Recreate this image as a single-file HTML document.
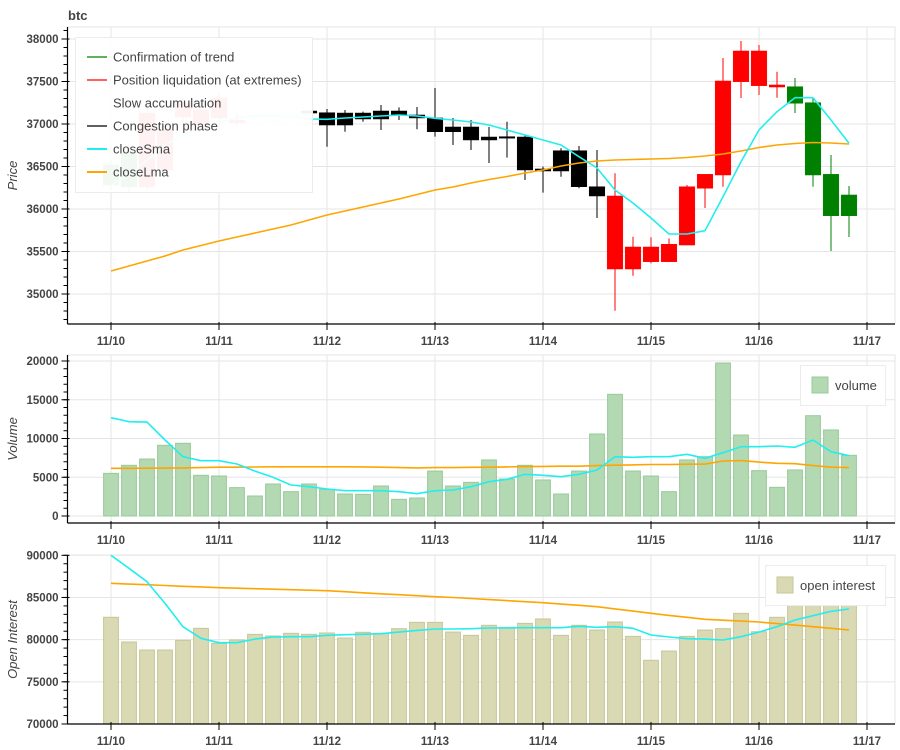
<!DOCTYPE html>
<html><head><meta charset="utf-8"><title>btc</title>
<style>
html,body{margin:0;padding:0;background:#fff;}
svg{display:block;font-family:"Liberation Sans",Arial,sans-serif;}
</style></head>
<body>
<svg id="chart" width="900" height="750" viewBox="0 0 900 750" xmlns="http://www.w3.org/2000/svg"></svg>
<script>
// ---- data (4-hour buckets starting 11/10 00:00) ----
const dayLabels = ["11/10","11/11","11/12","11/13","11/14","11/15","11/16","11/17"];
const priceTicks = [35000,35500,36000,36500,37000,37500,38000];
const volumeTicks = [0,5000,10000,15000,20000];
const oiTicks = [70000,75000,80000,85000,90000];
const openP = [36518,36659,37129,36929,37247,37165,37306,37047,37012,37059,37141,37153,37133,37129,37129,37153,37153,37106,37071,36965,36965,36847,36851,36847,36471,36686,36686,36262,36153,35553,35553,35585,36262,36408,37506,37859,37859,37459,37439,37251,36408,36165];
const highP = [36576,36718,37188,36988,37306,37224,37365,37129,37071,37141,37200,37165,37176,37165,37145,37224,37196,37200,37424,37071,37047,36965,37027,36871,36498,36714,36741,36694,36420,35674,35667,35655,36282,36408,37776,37976,37929,37615,37541,37302,36635,36271];
const lowP = [36224,36200,36224,36400,37012,36929,36988,36976,36929,36953,37024,37118,36733,36909,37027,36929,37047,36938,36851,36753,36694,36541,36604,36341,36192,36380,36244,35894,34803,35215,35361,35380,35576,36012,36262,37306,37341,37309,37129,36262,35506,35671];
const closeP = [36282,36259,36259,36459,37082,36988,37071,37012,36988,36988,37071,37129,36988,36988,37059,37059,37106,37071,36909,36909,36812,36812,36839,36459,36447,36447,36262,36153,35294,35294,35380,35380,35576,36244,36400,37498,37451,37435,37244,36400,35921,35921];
const phase = ["g","g","r","r","r","r","r","r","w","w","w","b","b","b","b","b","b","b","b","b","b","b","b","b","b","b","b","b","r","r","r","r","r","r","r","r","r","r","g","g","g","g"];
const closeSma = [36282,36400,36576,36753,36871,36953,37024,37071,37094,37094,37082,37059,37055,37071,37082,37094,37106,37094,37067,37047,37024,36988,36929,36871,36812,36753,36615,36482,36224,36071,35894,35706,35706,35745,36145,36556,36929,37145,37309,37309,37047,36773];
const closeLma = [35271,35329,35388,35447,35518,35571,35624,35671,35718,35765,35812,35871,35929,35976,36024,36071,36118,36171,36224,36259,36306,36347,36382,36424,36459,36506,36541,36565,36576,36582,36588,36594,36606,36624,36647,36682,36724,36753,36771,36782,36776,36765];
const volume = [5500,6540,7350,9120,9380,5250,5160,3660,2580,4130,3140,4130,3440,2840,2800,3870,2150,2320,5800,3870,4340,7230,4770,6540,4650,2840,5800,10580,15700,5800,5160,3140,7230,7650,19740,10450,5850,3700,5940,12940,11100,7830];
const volSma = [12690,12170,12110,9810,7650,7140,7140,6710,5800,4990,4000,3780,3480,3270,3270,3270,3140,2880,3270,3350,3780,4430,4730,5380,5250,5070,5380,5940,7650,7570,7650,7650,7960,7440,8170,8940,8940,9030,8860,9810,8300,7780];
const volLma = [6150,6150,6170,6180,6200,6250,6300,6300,6320,6350,6350,6350,6350,6350,6330,6300,6250,6200,6250,6250,6280,6300,6330,6380,6400,6420,6430,6500,6550,6600,6650,6650,6680,6700,7100,7150,6950,6800,6750,6500,6300,6250];
const openInterest = [82650,79720,78770,78770,79920,81340,79560,79960,80630,80430,80750,80630,80790,80190,80870,80750,81300,82050,82050,80900,80510,81700,81460,81930,82450,80510,81700,81140,82090,80390,77550,78650,80390,81140,81300,83120,80940,82650,84800,85000,85200,85300];
const oiSma = [90000,88460,86870,84300,81540,80160,79640,79640,80070,80310,80350,80350,80510,80590,80630,80710,80900,81100,81260,81260,81300,81380,81380,81420,81420,81420,81580,81460,81540,81340,80550,80310,80110,80070,79960,80350,80900,81540,82330,82840,83360,83630];
const oiLma = [86680,86590,86510,86420,86330,86250,86160,86100,86040,85980,85920,85860,85800,85680,85560,85440,85330,85210,85090,85000,84880,84750,84630,84500,84380,84220,84070,83910,83650,83380,83120,82880,82650,82410,82300,82200,82090,81900,81720,81540,81340,81140];

// ---- layout ----
const NS = "http://www.w3.org/2000/svg";
const svg = document.getElementById("chart");
const L = 67.5, R = 895;
const HOUR = 4.5, X0 = 111;
function xIdx(i){ return X0 + i*4*HOUR; }
function xDay(d){ return X0 + d*24*HOUR; }
function mk(tag, attrs, parent){
  const e = document.createElementNS(NS, tag);
  for (const k in attrs) e.setAttribute(k, attrs[k]);
  (parent||svg).appendChild(e);
  return e;
}
const panels = [
  {top:27, bot:324, vTop:38000, yTop:39, vBot:35000, yBot:294, ticks:priceTicks, minor:100, min:34647, max:38141, title:"Price", name:"price"},
  {top:355, bot:523, vTop:20000, yTop:361, vBot:0, yBot:516, ticks:volumeTicks, minor:1000, min:-903, max:20770, title:"Volume", name:"volume"},
  {top:555, bot:724, vTop:90000, yTop:555.3, vBot:70000, yBot:724, ticks:oiTicks, minor:1000, min:70000, max:90030, title:"Open Interest", name:"open-interest"}
];
panels.forEach(p=>{ p.y = v => p.yBot + (v - p.vBot)*(p.yTop - p.yBot)/(p.vTop - p.vBot); });

const title = mk("text",{x:68,y:20,"font-size":13,"font-weight":"bold",fill:"#444"});
title.textContent = "btc";



panels.forEach(p=>{
  const g = mk("g",{});
  
  
  const frame = mk("rect",{x:L,y:p.top,width:R-L,height:p.bot-p.top,fill:"none",stroke:"#e5e5e5","stroke-width":1},g);
  
  
  p.ticks.forEach(t=>{
    const y = p.y(t);
    const gl = mk("line",{x1:L,x2:R,y1:y,y2:y,stroke:"#e5e5e5","stroke-width":1},g);
    
    
  });
  dayLabels.forEach((d,k)=>{
    const x = xDay(k);
    const gl = mk("line",{x1:x,x2:x,y1:p.top,y2:p.bot,stroke:"#e5e5e5","stroke-width":1},g);
    
    
  });
});

// ---- price panel ----
const P = panels[0];
const colMap = {g:"#008000", r:"#ff0000", w:"#ececec", b:"#000000"};
const candleG = mk("g",{});


const BW = 15.6;
openP.forEach((o,i)=>{
  const c = colMap[phase[i]];
  const x = xIdx(i);
  const w = mk("line",{x1:x,x2:x,y1:P.y(highP[i]),y2:P.y(lowP[i]),stroke:c,"stroke-width":1},candleG);
  
  
  const yt = P.y(Math.max(o,closeP[i])), yb = P.y(Math.min(o,closeP[i]));
  const b = mk("rect",{x:x-BW/2,y:yt,width:BW,height:Math.max(1.5,yb-yt),fill:c,stroke:c,"stroke-width":0.5},candleG);
  
  
});
function line(arr, p, color, name, width){
  const pts = arr.map((v,i)=> xIdx(i).toFixed(1)+","+p.y(v).toFixed(1)).join(" ");
  const e = mk("polyline",{points:pts,fill:"none",stroke:color,"stroke-width":width||1.6,"stroke-linejoin":"round"});
  
  
  return e;
}
line(closeLma, P, "#ffa500", "close-lma-line");
line(closeSma, P, "#22eeee", "close-sma-line");

// ---- volume panel ----
const V = panels[1];
const volG = mk("g",{});


volume.forEach((v,i)=>{
  const x = xIdx(i);
  const b = mk("rect",{x:x-7.4,y:V.y(v),width:14.8,height:V.y(0)-V.y(v),fill:"#b3d9b3",stroke:"#99c999","stroke-width":1},volG);
  
  
});
line(volLma, V, "#ffa500", "volume-lma-line");
line(volSma, V, "#22eeee", "volume-sma-line");

// ---- OI panel ----
const O = panels[2];
const oiG = mk("g",{});


openInterest.forEach((v,i)=>{
  const x = xIdx(i);
  const b = mk("rect",{x:x-7.4,y:O.y(v),width:14.8,height:O.bot-O.y(v),fill:"#d9d9b3",stroke:"#c6c69a","stroke-width":1},oiG);
  
  
});
line(oiLma, O, "#ffa500", "oi-lma-line");
line(oiSma, O, "#22eeee", "oi-sma-line");

// ---- axes ----
panels.forEach(p=>{
  const ax = mk("g",{});
  
  
  mk("line",{x1:L,x2:L,y1:p.top,y2:p.bot,stroke:"#000","stroke-width":1.2},ax);
  mk("line",{x1:L,x2:R,y1:p.bot,y2:p.bot,stroke:"#000","stroke-width":1.2},ax);
  for (let v = Math.ceil(p.min/p.minor)*p.minor; v <= p.max; v += p.minor){
    const y = p.y(v);
    if (y < p.top-0.5 || y > p.bot+0.5) continue;
    mk("line",{x1:L-4,x2:L,y1:y,y2:y,stroke:"#000","stroke-width":1},ax);
  }
  p.ticks.forEach(t=>{
    const y = p.y(t);
    mk("line",{x1:L-6,x2:L+2,y1:y,y2:y,stroke:"#000","stroke-width":1},ax);
    const tx = mk("text",{x:L-9,y:y+4,"font-size":11.5,"font-weight":"bold",fill:"#444","text-anchor":"end"},ax);
    tx.textContent = String(t);
    
    
  });
  dayLabels.forEach((d,k)=>{
    const x = xDay(k);
    mk("line",{x1:x,x2:x,y1:p.bot-2,y2:p.bot+6,stroke:"#000","stroke-width":1},ax);
    const tx = mk("text",{x:x,y:p.bot+21,"font-size":11.5,"font-weight":"bold",fill:"#444","text-anchor":"middle"},ax);
    tx.textContent = d;
    
    
  });
  const cy = (p.top+p.bot)/2;
  const yt = mk("text",{x:17,y:cy,"font-size":13,"font-style":"italic",fill:"#444","text-anchor":"middle",transform:"rotate(-90 17 "+cy+")"},ax);
  yt.textContent = p.title;
  
  
});

// ---- legends ----
const lg = mk("g",{});


mk("rect",{x:75.5,y:37.5,width:237,height:155,fill:"rgba(255,255,255,0.95)",stroke:"#ececec","stroke-width":1},lg);
const legItems = [["Confirmation of trend","#008000"],["Position liquidation (at extremes)","#ff0000"],["Slow accumulation","#ffffff"],["Congestion phase","#000000"],["closeSma","#22eeee"],["closeLma","#ffa500"]];
legItems.forEach((it,k)=>{
  const y = 57 + k*23;
  const e = mk("g",{},lg);
  
  
  mk("line",{x1:87,x2:107,y1:y,y2:y,stroke:it[1],"stroke-width":k>=4?2:1.2},e);
  const t = mk("text",{x:113,y:y+4.5,"font-size":13,fill:"#444"},e);
  t.textContent = it[0];
});
function boxLegend(x,w,y,fill,stroke,label,name){
  const g = mk("g",{});
  
  
  mk("rect",{x:x+0.5,y:y+0.5,width:w,height:40,fill:"#fff",stroke:"#ececec","stroke-width":1},g);
  mk("rect",{x:x+12,y:y+12,width:16,height:16,fill:fill,stroke:stroke,"stroke-width":1},g);
  const t = mk("text",{x:x+35,y:y+25,"font-size":13,fill:"#444"},g);
  t.textContent = label;
}
boxLegend(800,85,365,"#b3d9b3","#99c999","volume","volume-legend");
boxLegend(765,120,565,"#d9d9b3","#c6c69a","open interest","open-interest-legend");
</script>
</body></html>
